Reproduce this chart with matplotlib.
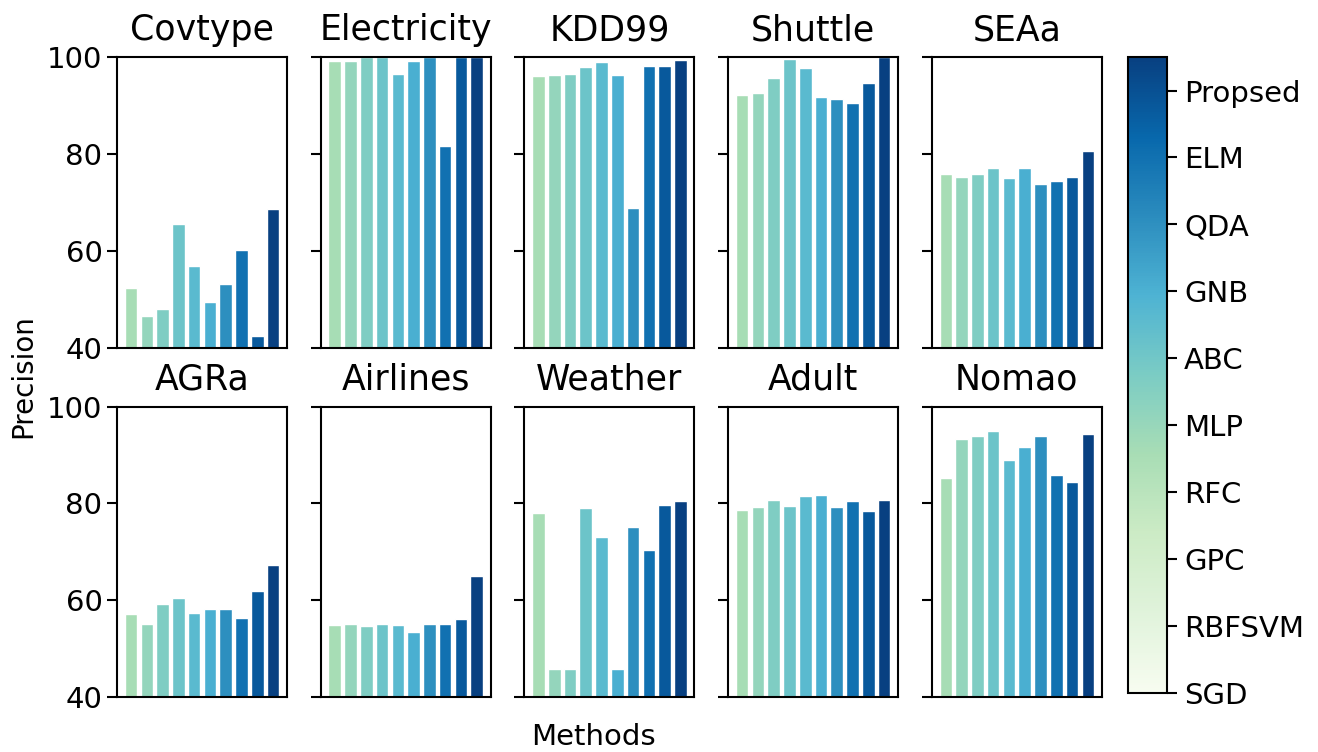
import numpy as np
import matplotlib
matplotlib.use("Agg")
import matplotlib.pyplot as plt
from matplotlib import cm
from matplotlib.colors import Normalize

# methods, ordered as in the colour bar (bottom to top)
methods = ["SGD", "RBFSVM", "GPC", "RFC", "MLP", "ABC", "GNB", "QDA", "ELM", "Propsed"]

datasets = ["Covtype", "Electricity", "KDD99", "Shuttle", "SEAa",
            "AGRa", "Airlines", "Weather", "Adult", "Nomao"]

# precision (%) per method, one list per dataset
covtype     = [52.3, 46.6, 48.0, 65.6, 56.8, 49.5, 53.1, 60.2, 42.4, 68.6]
electricity = [99.3, 99.3, 100.0, 100.0, 96.5, 99.2, 100.0, 81.7, 100.0, 100.0]
kdd99       = [96.1, 96.4, 96.5, 97.9, 98.9, 96.4, 68.9, 98.1, 98.1, 99.4]
shuttle     = [92.2, 92.5, 95.7, 99.7, 97.8, 91.7, 91.3, 90.5, 94.6, 100.0]
seaa        = [75.9, 75.2, 75.9, 77.2, 75.1, 77.2, 73.8, 74.5, 75.3, 80.7]
agra        = [57.1, 55.0, 59.3, 60.5, 57.4, 58.2, 58.2, 56.4, 61.9, 67.2]
airlines    = [54.9, 55.0, 54.6, 55.1, 54.9, 53.4, 55.1, 55.1, 56.2, 65.0]
weather     = [78.0, 45.8, 45.8, 79.1, 73.0, 45.8, 75.2, 70.4, 79.6, 80.5]
adult       = [78.7, 79.3, 80.6, 79.5, 81.6, 81.8, 79.3, 80.4, 78.4, 80.7]
nomao       = [85.2, 93.3, 93.9, 94.9, 88.9, 91.6, 94.0, 85.9, 84.4, 94.3]

scores = [covtype, electricity, kdd99, shuttle, seaa,
          agra, airlines, weather, adult, nomao]

yticks = [40, 60, 80, 100]

cmap = plt.get_cmap("GnBu")
# positions along GnBu for the ten bars
shade = [0.375, 0.43, 0.49, 0.54, 0.59, 0.64, 0.74, 0.84, 0.92, 1.0]
bar_colors = cmap(shade)

fig, axes = plt.subplots(2, 5, figsize=(13.18, 7.52), dpi=100)
fig.subplots_adjust(left=0.0888, right=0.836, top=0.924, bottom=0.0731,
                    wspace=0.198, hspace=0.203)

x = np.arange(len(methods))
for i, ax in enumerate(axes.flat):
    ax.bar(x, scores[i], width=0.8, color=bar_colors,
           edgecolor="white", linewidth=1.0)
    ax.set_ylim(40, 100)
    ax.set_yticks(yticks)
    ax.set_xticks([])
    ax.set_title(datasets[i], fontsize=25, pad=12)
    ax.tick_params(axis="y", length=7, width=1.5, labelsize=21)
    for sp in ax.spines.values():
        sp.set_linewidth(1.5)
    if i % 5 != 0:
        ax.set_yticklabels([])

fig.text(0.45, 0.02, "Methods", ha="center", va="center", fontsize=21)
fig.text(0.018, 0.5, "Precision", ha="center", va="center",
         rotation=90, fontsize=20)

# colour bar used as the legend for the methods
cax = fig.add_axes([0.856, 0.079, 0.0296, 0.845])
sm = cm.ScalarMappable(norm=Normalize(0, 9.5), cmap=cmap)
cbar = fig.colorbar(sm, cax=cax, ticks=range(len(methods)))
cbar.ax.set_yticklabels(methods)
cbar.ax.tick_params(length=7, width=1.5, labelsize=21, pad=5)
cbar.outline.set_linewidth(1.5)

plt.savefig("out.png", dpi=100)
